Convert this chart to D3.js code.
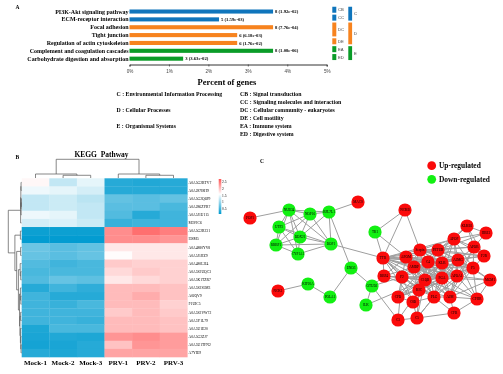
<!DOCTYPE html>
<html>
<head>
<meta charset="utf-8">
<script src="https://cdn.jsdelivr.net/npm/d3@7"></script>
<style>
body { margin: 0; background: #fff; }
svg { display: block; filter: blur(0.3px); }
text { font-family: "Liberation Serif", serif; font-weight: bold; fill: #000; }
.sans { font-family: "Liberation Sans", sans-serif; font-weight: normal; fill: #444; }
</style>
</head>
<body>
<script>
const width = 503;
const height = 374;

// panel A
var pathways = ["PI3K-Akt signaling pathway", "ECM-receptor interaction", "Focal adhesion", "Tight junction",
    "Regulation of actin cytoskeleton", "Complement and coagulation cascades", "Carbohydrate digestion and absorption"];
var geneCounts = [8, 5, 8, 6, 6, 8, 3];
var genePercent = [3.64, 2.27, 3.64, 2.73, 2.73, 3.64, 1.36];
var pValues = ["1.92e-02", "1.59e-03", "7.76e-04", "6.18e-03", "1.76e-02", "1.08e-06", "3.63e-02"];
var subClasses = ["CB", "CC", "DC", "DC", "DE", "EA", "ED"];
var mainClasses = ["C", "C", "D", "D", "D", "E", "E"];
var classColors = {C: "#0f75bc", D: "#f7831e", E: "#0a9c28"};
var percentTicks = [0, 1, 2, 3, 4, 5];
var mainNotes = [["C : Environmental Information Processing", 0], ["D : Cellular Processes", 2], ["E : Organismal Systems", 4]];
var subNotes = ["CB : Signal transduction", "CC : Signaling molecules and interaction", "DC : Cellular community - eukaryotes",
    "DE : Cell motility", "EA : Immune system", "ED : Digestive system"];

// panel B
var proteins = ["A0A5G2BTV7", "A0A287I8H9", "A0A5G2Q6P9", "A0A286ZYR7", "A0A5J1U115", "M3VIC6", "A0A5G2R231", "I3SM5",
    "A0A4880YV8", "A0A5J1JIZ9", "A0A480L3I4", "A0A5S2UQC3", "A0A5K1TZR7", "A0A5S2S5M3", "A0JQV9", "F1UIC5",
    "A0A5S2VW72", "A0A5Y1L79", "A0A5U1E20", "A0A5G2ZJ7", "A0A5U1TFN2", "A7YIE9"];
var samples = ["Mock-1", "Mock-2", "Mock-3", "PRV-1", "PRV-2", "PRV-3"];
var expression = [
    [1.65, 1.25, 1.45, 0.35, 0.32, 0.35],
    [1.50, 1.45, 1.35, 0.35, 0.35, 0.35],
    [1.25, 1.30, 1.20, 0.70, 0.65, 0.70],
    [1.25, 1.30, 1.25, 0.65, 0.65, 0.55],
    [1.50, 1.45, 1.25, 0.60, 0.35, 0.50],
    [1.35, 1.40, 1.30, 0.45, 0.50, 0.50],
    [0.20, 0.20, 0.20, 2.35, 2.55, 2.45],
    [0.15, 0.15, 0.15, 2.35, 2.35, 2.30],
    [0.75, 0.65, 0.70, 1.75, 1.75, 1.75],
    [0.72, 0.65, 0.72, 1.62, 1.75, 1.75],
    [0.60, 0.50, 0.55, 1.95, 1.90, 1.90],
    [0.55, 0.55, 0.55, 1.85, 1.95, 1.90],
    [0.60, 0.72, 0.67, 1.75, 1.85, 1.90],
    [0.35, 0.50, 0.40, 2.05, 2.05, 2.00],
    [0.50, 0.35, 0.35, 2.05, 2.15, 2.00],
    [0.50, 0.45, 0.55, 2.05, 2.05, 1.90],
    [0.50, 0.50, 0.50, 1.95, 2.05, 1.95],
    [0.50, 0.50, 0.45, 2.05, 2.05, 2.00],
    [0.30, 0.55, 0.55, 2.05, 2.05, 2.00],
    [0.28, 0.32, 0.30, 2.30, 2.35, 2.25],
    [0.25, 0.28, 0.35, 2.00, 2.30, 2.25],
    [0.35, 0.30, 0.35, 2.20, 2.20, 2.20]
];
var legendTicks = [0.5, 1, 1.5, 2, 2.5];
// dendrograms: [height, left, right], a leaf is its index
var colTree = [6, [1.28, 0, [0.87, 1, 2]], [1.28, 3, [0.87, 4, 5]]];
var rowTree = [6,
    [0.4, [0.3, [0.2, 0, 1], [0.2, [0.1, 2, 3], 4]], 5],
    [3, [0.5, 6, 7],
        [2.2, [0.4, 8, 9],
            [1.4, [0.6, 10, [0.35, 11, 12]],
                [0.9, [0.5, 13, [0.3, 14, 15]], [0.7, [0.4, 16, 17], [0.5, 18, [0.35, 19, [0.2, 20, 21]]]]]]]]];

// panel C
var netNames = ["POP1", "NUB34", "NOP16", "RPL7L1", "MACS", "UTP3", "DDX21", "RRBP1", "CYP1A1", "BOP1",
    "ENO3", "KIF20A", "NCK1", "POLA1", "ILK", "OTUD1", "TK1", "NCKB", "TTR", "APOM",
    "Serpin", "FETUB", "AMBP", "C4", "KLB", "A2MG", "APOF", "KLKB1", "HBE1", "APOB",
    "F2R", "F5", "MGM1", "APOA1", "FGA", "C1QB", "F2", "RBP4", "KIC", "CFD",
    "C8B", "PLG", "A2M", "CFHR", "CFB", "C5", "C3"];
var netX = [0, 39, 60, 79, 108, 29, 50, 26, 48, 81,
    101, 58, 28, 80, 116, 122, 125, 155, 133, 156,
    170, 188, 164, 178, 192, 208, 204, 217, 236, 224,
    234, 223, 240, 207, 192, 175, 152, 134, 169, 148,
    163, 184, 200, 227, 204, 167, 148];
var netY = [68, 60, 64, 62, 52, 77, 87, 95, 104, 94,
    118, 134, 141, 147, 155, 136, 82, 60, 108, 107,
    100, 100, 117, 112, 113, 110, 89, 76, 83, 97,
    106, 118, 130, 126, 128, 130, 127, 126, 140, 147,
    152, 147, 147, 149, 163, 168, 170];
var netUp = [1, 0, 0, 0, 1, 0, 0, 0, 0, 0,
    0, 0, 1, 0, 0, 0, 0, 1, 1, 1,
    1, 1, 1, 1, 1, 1, 1, 1, 1, 1,
    1, 1, 1, 1, 1, 1, 1, 1, 1, 1,
    1, 1, 1, 1, 1, 1, 1];
var netLinks = [
    ["POP1", "NUB34"], ["NUB34", "NOP16 RPL7L1 UTP3 DDX21 RRBP1 CYP1A1 BOP1"], ["NOP16", "RPL7L1 UTP3 DDX21 RRBP1 BOP1"],
    ["RPL7L1", "MACS DDX21 BOP1 ENO3"], ["UTP3", "DDX21 RRBP1 CYP1A1 BOP1"], ["DDX21", "RRBP1 CYP1A1 BOP1"],
    ["RRBP1", "CYP1A1 BOP1"], ["CYP1A1", "BOP1"], ["BOP1", "TTR"], ["ENO3", "OTUD1 POLA1"], ["POLA1", "KIF20A"],
    ["KIF20A", "NCK1"], ["OTUD1", "ILK C3 F2 RBP4"], ["ILK", "C1QB"], ["TK1", "NCKB TTR APOM"], ["NCKB", "TTR Serpin"],
    ["TTR", "RBP4 APOM Serpin FETUB AMBP C4 KLB A2MG F2 C1QB FGA APOA1 KIC PLG APOF C8B"],
    ["APOM", "Serpin FETUB AMBP C4 KLB A2MG F2 RBP4 C1QB FGA APOA1 KIC PLG"],
    ["Serpin", "FETUB AMBP C4 KLB A2MG APOF F2 C1QB FGA APOA1 F2R F5 APOB"],
    ["FETUB", "AMBP C4 KLB A2MG APOF APOB F5 C1QB FGA APOA1 F2R KLKB1 HBE1"],
    ["AMBP", "C4 KLB A2MG F2 RBP4 C1QB FGA APOA1 KIC PLG APOF F5 A2M"],
    ["C4", "KLB A2MG F2 C1QB FGA APOA1 KIC PLG A2M C8B CFD APOF F5 F2R"],
    ["KLB", "A2MG APOF C1QB FGA APOA1 F5 KIC PLG A2M CFD F2"],
    ["A2MG", "APOF APOB F2R F5 APOA1 FGA C1QB PLG A2M CFHR KIC MGM1"],
    ["APOF", "KLKB1 HBE1 APOB F2R F5 APOA1 FGA"], ["KLKB1", "HBE1 APOB F2R"], ["HBE1", "APOB"], ["APOB", "F2R F5 APOA1 A2M"], ["F2R", "F5"],
    ["F5", "MGM1 APOA1 FGA C1QB A2M CFHR PLG"], ["MGM1", "APOA1 CFHR A2M FGA"],
    ["APOA1", "FGA C1QB KIC PLG A2M CFHR F2 CFD"], ["FGA", "C1QB F2 KIC PLG A2M CFHR CFD C8B"],
    ["C1QB", "F2 RBP4 KIC PLG A2M C8B CFD C5 CFHR"], ["F2", "RBP4 KIC PLG CFD C8B C3"], ["RBP4", "C1QB KIC"],
    ["KIC", "PLG C8B CFD C5 C3 A2M"], ["CFD", "C8B"], ["C8B", "PLG C5"], ["PLG", "A2M C5 CFB"], ["A2M", "CFB CFHR"],
    ["CFB", "C5"], ["C5", "C3 PLG"], ["CFHR", "CFB"]
];

var svg = d3.select("body")
    .append("svg")
    .attr("width", width)
    .attr("height", height);

function panelLetter(t, x, y) {
    svg.append("text").attr("x", x).attr("y", y).attr("font-size", 5.5).text(t);
}
panelLetter("A", 15.5, 8.5);
panelLetter("B", 15.5, 159);
panelLetter("C", 260, 163);

// ---- A: bars
var xScale = d3.scaleLinear().domain([0, 5]).range([129.5, 326.7]);
var yScale = d3.scaleBand().domain(d3.range(pathways.length)).range([7.6, 62.6]).paddingInner(0.48).paddingOuter(0.24);

var rows = d3.range(pathways.length);
svg.append("g").selectAll("rect")
    .data(rows)
    .enter()
    .append("rect")
    .attr("x", xScale(0))
    .attr("y", function(i) {return yScale(i);})
    .attr("width", function(i) {return xScale(genePercent[i]) - xScale(0);})
    .attr("height", yScale.bandwidth())
    .style("fill", function(i) {return classColors[mainClasses[i]];});

svg.append("g").selectAll("text")
    .data(rows)
    .enter()
    .append("text")
    .attr("x", 128.5)
    .attr("y", function(i) {return yScale(i) + yScale.bandwidth() / 2 + 2;})
    .attr("text-anchor", "end")
    .attr("font-size", 6)
    .text(function(i) {return pathways[i];});

svg.append("g").selectAll("text")
    .data(rows)
    .enter()
    .append("text")
    .attr("x", function(i) {return xScale(genePercent[i]) + 2;})
    .attr("y", function(i) {return yScale(i) + yScale.bandwidth() / 2 + 1.6;})
    .attr("font-size", 4.7)
    .text(function(i) {return geneCounts[i] + " (" + pValues[i] + ")";});

var xAxis = svg.append("g")
    .attr("transform", "translate(0,64.5)")
    .call(d3.axisBottom(xScale).tickValues(percentTicks).tickSize(2).tickFormat(function(d) {return d + "%";}));
xAxis.select(".domain").attr("stroke", "#333").attr("stroke-width", 1);
xAxis.selectAll(".tick line").attr("stroke", "#333").attr("stroke-width", 0.7);
xAxis.selectAll("text").attr("class", "sans").attr("font-size", 4.6).attr("dy", 0).attr("y", 8.3);

svg.append("text").attr("x", 227).attr("y", 85).attr("text-anchor", "middle").attr("font-size", 8.5).text("Percent of genes");

// class strips next to the bars
var sideScale = d3.scaleBand().domain(rows).range([5.8, 61]).paddingInner(0.24).paddingOuter(0.12);
function strip(codes, x, w, labelX) {
    var g = svg.append("g");
    d3.groups(rows, function(i) {return codes[i];}).forEach(function(e) {
        var y0 = sideScale(e[1][0]);
        var y1 = sideScale(e[1][e[1].length - 1]) + sideScale.bandwidth();
        g.append("rect").attr("x", x).attr("y", y0).attr("width", w).attr("height", y1 - y0)
            .style("fill", classColors[e[0][0]]);
        g.append("text").attr("class", "sans").attr("x", labelX).attr("y", (y0 + y1) / 2 + 1.5)
            .attr("font-size", 4.2).text(e[0]);
    });
}
strip(subClasses, 332.3, 4, 338);
strip(mainClasses, 348.3, 3.8, 354);

var noteY = d3.scaleLinear().domain([0, 5]).range([96, 135.8]);
svg.append("g").selectAll("text")
    .data(mainNotes)
    .enter()
    .append("text")
    .attr("x", 116.5)
    .attr("y", function(d) {return noteY(d[1]);})
    .attr("font-size", 5.8)
    .text(function(d) {return d[0];});
svg.append("g").selectAll("text")
    .data(subNotes)
    .enter()
    .append("text")
    .attr("x", 240)
    .attr("y", function(d, i) {return noteY(i);})
    .attr("font-size", 5.8)
    .text(function(d) {return d;});

// ---- B: heatmap
var colScale = d3.scaleBand().domain(d3.range(samples.length)).range([21.7, 187.3]);
var rowScale = d3.scaleBand().domain(d3.range(proteins.length)).range([178.3, 357]);
var color = d3.scaleLinear().domain([0.13, 1.6, 2.72]).range(["#009bd0", "#ffffff", "#ff5555"]);

var cellRows = svg.append("g").selectAll("g")
    .data(expression)
    .enter()
    .append("g")
    .attr("transform", function(d, i) {return "translate(0," + rowScale(i) + ")";});
cellRows.selectAll("rect")
    .data(function(d) {return d;})
    .enter()
    .append("rect")
    .attr("x", function(d, j) {return colScale(j);})
    .attr("width", colScale.bandwidth() + 0.3)
    .attr("height", rowScale.bandwidth() + 0.3)
    .style("fill", function(d) {return color(d);});

svg.append("g").selectAll("text")
    .data(proteins)
    .enter()
    .append("text")
    .attr("x", 188.5)
    .attr("y", function(d, i) {return rowScale(i) + rowScale.bandwidth() / 2 + 1.2;})
    .style("font-weight", "normal")
    .attr("font-size", 3.7)
    .text(function(d) {return d;});

svg.append("g").selectAll("text")
    .data(samples)
    .enter()
    .append("text")
    .attr("x", function(d, i) {return colScale(i) + colScale.bandwidth() / 2;})
    .attr("y", 365)
    .attr("text-anchor", "middle")
    .attr("font-size", 7)
    .text(function(d) {return d;});

svg.append("text").attr("x", 101.5).attr("y", 157).attr("text-anchor", "middle")
    .attr("font-size", 7.5).attr("xml:space", "preserve").text("KEGG  Pathway");

// walk a tree and give back the centre of each node while pushing elbows
function dendro(node, leafPos, depthPos, out) {
    if (typeof node === "number") return {c: leafPos(node), d: depthPos(0)};
    var a = dendro(node[1], leafPos, depthPos, out);
    var b = dendro(node[2], leafPos, depthPos, out);
    var d = depthPos(node[0]);
    out.push([[a.c, a.d], [a.c, d], [b.c, d], [b.c, b.d]]);
    return {c: (a.c + b.c) / 2, d: d};
}
var colTop = d3.scaleLinear().domain([0, 6]).range([178, 159.3]);
var rowLeft = d3.scaleLinear().domain([0, 6]).range([21.5, 8.3]);
var colElbows = [], rowElbows = [];
dendro(colTree, function(i) {return colScale(i) + colScale.bandwidth() / 2;}, colTop, colElbows);
dendro(rowTree, function(i) {return rowScale(i) + rowScale.bandwidth() / 2;}, rowLeft, rowElbows);
var elbowLine = d3.line();
svg.append("g").selectAll("path")
    .data(colElbows)
    .enter()
    .append("path")
    .attr("d", elbowLine)
    .style("fill", "none").style("stroke", "#555").style("stroke-width", 0.7);
svg.append("g").selectAll("path")
    .data(rowElbows.map(function(e) {return e.map(function(p) {return [p[1], p[0]];});}))
    .enter()
    .append("path")
    .attr("d", elbowLine)
    .style("fill", "none").style("stroke", "#555").style("stroke-width", 0.7);

// colour legend
var legendY = d3.scaleLinear().domain([0.13, 2.72]).range([214, 179]);
var gradient = svg.append("defs").append("linearGradient").attr("id", "heat")
    .attr("x1", 0).attr("x2", 0).attr("y1", 1).attr("y2", 0);
gradient.selectAll("stop")
    .data(color.domain())
    .enter()
    .append("stop")
    .attr("offset", function(d) {return (d - 0.13) / (2.72 - 0.13);})
    .attr("stop-color", function(d) {return color(d);});
svg.append("rect").attr("x", 218.7).attr("y", legendY(2.72)).attr("width", 2.6)
    .attr("height", legendY(0.13) - legendY(2.72)).style("fill", "url(#heat)");
svg.append("g").selectAll("text")
    .data(legendTicks)
    .enter()
    .append("text")
    .attr("x", 222)
    .attr("y", function(d) {return legendY(d) + 1.2;})
    .style("font-weight", "normal")
    .attr("font-size", 3.6)
    .text(function(d) {return d;});

// ---- C: network, layout positions
var netXScale = d3.scaleLinear().domain([0, 253]).range([250, 503]);
var netYScale = d3.scaleLinear().domain([0, 224]).range([150, 374]);
var nameIndex = new Map(netNames.map(function(n, i) {return [n, i];}));
var pairs = [];
netLinks.forEach(function(l) {
    l[1].split(" ").forEach(function(t) {pairs.push([nameIndex.get(l[0]), nameIndex.get(t)]);});
});
svg.append("g").selectAll("line")
    .data(pairs)
    .enter()
    .append("line")
    .attr("x1", function(d) {return netXScale(netX[d[0]]);})
    .attr("y1", function(d) {return netYScale(netY[d[0]]);})
    .attr("x2", function(d) {return netXScale(netX[d[1]]);})
    .attr("y2", function(d) {return netYScale(netY[d[1]]);})
    .style("stroke", "#9e9e9e")
    .style("stroke-width", 1);

var nodes = svg.append("g").selectAll("g")
    .data(netNames)
    .enter()
    .append("g")
    .attr("transform", function(d, i) {return "translate(" + netXScale(netX[i]) + "," + netYScale(netY[i]) + ")";});
nodes.append("circle")
    .attr("r", 6.6)
    .style("fill", function(d, i) {return netUp[i] ? "#fa0a0a" : "#12f012";});
nodes.append("text")
    .attr("text-anchor", "middle")
    .attr("y", 1.1)
    .attr("font-size", 3.4)
    .style("font-weight", "normal")
    .text(function(d) {return d;});

var netLegend = [["Up-regulated", 15.7, "#fa0a0a"], ["Down-regulated", 29.3, "#12f012"]];
svg.append("g").selectAll("circle")
    .data(netLegend)
    .enter()
    .append("circle")
    .attr("cx", netXScale(181.7))
    .attr("cy", function(d) {return netYScale(d[1]);})
    .attr("r", 4.4)
    .style("fill", function(d) {return d[2];});
svg.append("g").selectAll("text")
    .data(netLegend)
    .enter()
    .append("text")
    .attr("x", netXScale(189))
    .attr("y", function(d) {return netYScale(d[1]) + 2.3;})
    .attr("font-size", 7.4)
    .text(function(d) {return d[0];});
</script>
</body>
</html>
